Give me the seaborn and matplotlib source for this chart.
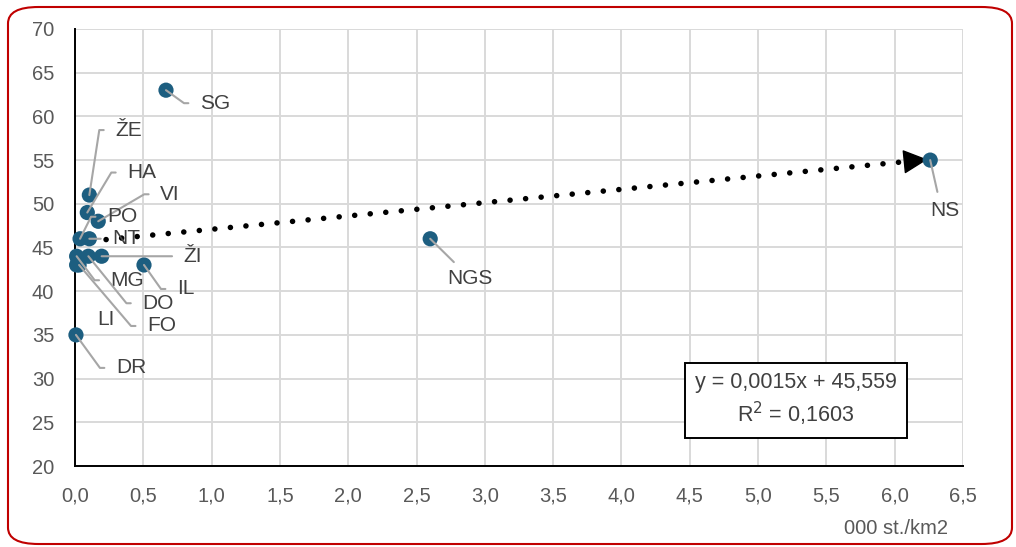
import numpy as np
import pandas as pd
import matplotlib
matplotlib.use("Agg")
import matplotlib.pyplot as plt
from matplotlib.patches import FancyBboxPatch
from matplotlib.ticker import FuncFormatter, MultipleLocator
import seaborn as sns

# data (x in 000 st./km2)
regions = ["SG", "NS", "NGS", "IL", "ŽI", "ŽE", "HA", "VI", "PO", "NT",
           "MG", "DO", "FO", "LI", "DR"]
density = [0.666, 6.26, 2.60, 0.505, 0.195, 0.105, 0.09, 0.17, 0.037, 0.105,
           0.012, 0.098, 0.03, 0.012, 0.007]
value = [63, 55, 46, 43, 44, 51, 49, 48, 46, 46,
         44, 44, 43, 43, 35]

# label placement in pixels (dx, dy, leader style)
label_pos = {
    "SG": (34, -13, "elbow"), "NS": (15, -50, "top"), "NGS": (40, -40, "top"),
    "IL": (33, -24, "elbow"), "ŽI": (82, 0, "straight"), "ŽE": (26, 65, "elbow"),
    "HA": (40, 40, "elbow"), "VI": (62, 27, "elbow"), "PO": (27, 22, "elbow"),
    "NT": (23, 0, "straight"), "MG": (34, -24, "elbow"), "DO": (54, -47, "elbow"),
    "FO": (68, -61, "elbow"), "LI": (21, -55, "none"), "DR": (40, -33, "elbow"),
}

df = pd.DataFrame({"region": regions, "x": density, "y": value})

sns.set_theme(style="white")
plt.rcParams["font.family"] = ["Liberation Sans", "DejaVu Sans"]

fig = plt.figure(figsize=(10.16, 5.47), dpi=100)
ax = fig.add_axes([75 / 1016, 1 - 466 / 547, 888 / 1016, 437 / 547])

# red rounded frame around the chart
frame = FancyBboxPatch((8 / 1016, 3 / 547), 1004 / 1016, 537 / 547,
                       boxstyle="round,pad=0,rounding_size=0.03",
                       transform=fig.transFigure, fill=False,
                       edgecolor="#c00000", linewidth=1.5, clip_on=False)
fig.patches.append(frame)

# trend line
slope, intercept = np.polyfit(df["x"], df["y"], 1)
xs = np.array([0, df["x"].max()])
ax.plot(xs, intercept + slope * xs, color="black", linestyle=(0, (0.01, 2.8)),
        linewidth=4, dash_capstyle="round", zorder=2)
ax.annotate("", xy=(xs[1], intercept + slope * xs[1]),
            xytext=(xs[1] - 0.05, intercept + slope * (xs[1] - 0.05)),
            arrowprops=dict(arrowstyle="-|>,head_length=1.3,head_width=0.65",
                            color="black", lw=1), zorder=3)

sns.scatterplot(data=df, x="x", y="y", ax=ax, color="#1d5e80", s=120,
                edgecolor="none", zorder=4, clip_on=False)

for r, x, y in zip(regions, density, value):
    dx, dy, style = label_pos[r]
    if style == "top":
        ax.annotate(r, xy=(x, y), xytext=(dx, dy), textcoords="offset pixels",
                    ha="center", va="center", fontsize=15, color="#404040",
                    arrowprops=dict(arrowstyle="-", color="#a6a6a6", lw=1.5,
                                    relpos=(0.3, 1), shrinkA=4, shrinkB=0),
                    zorder=5)
    elif style == "none":
        ax.annotate(r, xy=(x, y), xytext=(dx, dy), textcoords="offset pixels",
                    ha="left", va="center", fontsize=15, color="#404040", zorder=5)
    else:
        if style == "elbow":
            ang = np.degrees(np.arctan2(dy, dx - 16))
            conn = f"angle,angleA=0,angleB={ang:.1f},rad=0"
        else:
            conn = "arc3"
        ax.annotate(r, xy=(x, y), xytext=(dx, dy), textcoords="offset pixels",
                    ha="left", va="center", fontsize=15, color="#404040",
                    arrowprops=dict(arrowstyle="-", color="#a6a6a6", lw=1.5,
                                    relpos=(0, 0.5), shrinkA=6, shrinkB=0,
                                    connectionstyle=conn),
                    zorder=5)

ax.set_xlim(0, 6.5)
ax.set_ylim(20, 70)
ax.xaxis.set_major_locator(MultipleLocator(0.5))
ax.yaxis.set_major_locator(MultipleLocator(5))
ax.xaxis.set_major_formatter(FuncFormatter(lambda v, p: f"{v:.1f}".replace(".", ",")))
ax.yaxis.set_major_formatter(FuncFormatter(lambda v, p: f"{v:.0f}"))
ax.grid(True, color="#d9d9d9", linewidth=1.4)
ax.set_axisbelow(True)
for side in ["top", "right"]:
    ax.spines[side].set_visible(False)
for side in ["left", "bottom"]:
    ax.spines[side].set_color("black")
    ax.spines[side].set_linewidth(1.4)
ax.tick_params(axis="both", labelsize=14.5, colors="#595959", length=0, pad=15)
ax.set_xlabel("")
ax.set_ylabel("")
fig.text(948 / 1016, 1 - 528 / 547, "000 st./km2", ha="right", va="center",
         fontsize=14.5, color="#595959")

ax.text(796 / 888 - 75 / 888, (466 - 400) / 437, "y = 0,0015x + 45,559\nR$^2$ = 0,1603",
        transform=ax.transAxes, ha="center", va="center", fontsize=15.5,
        color="#404040", linespacing=1.3,
        bbox=dict(boxstyle="square,pad=0.45", facecolor="white",
                  edgecolor="black", linewidth=1.4), zorder=6)

fig.savefig("out.png", dpi=100)
